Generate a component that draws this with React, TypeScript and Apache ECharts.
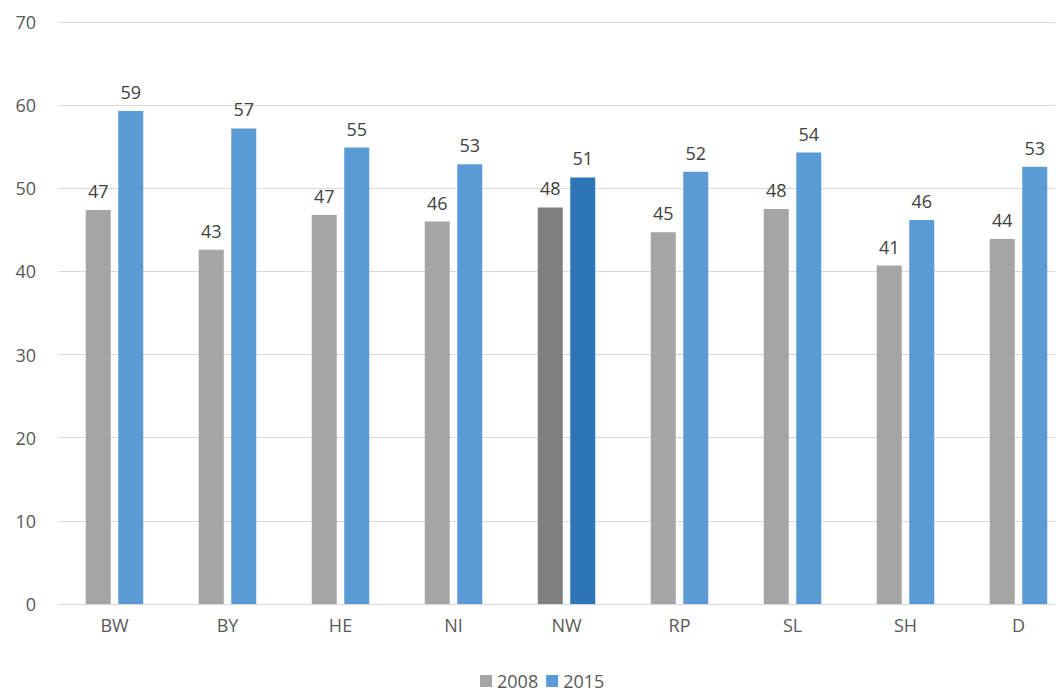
import { useEffect, useRef } from 'react'
import * as echarts from 'echarts'

const categories = ['BW', 'BY', 'HE', 'NI', 'NW', 'RP', 'SL', 'SH', 'D']
const values2008 = [47.4, 42.6, 46.8, 46.0, 47.7, 44.7, 47.5, 40.7, 43.9]
const values2015 = [59.3, 57.2, 54.9, 52.9, 51.3, 52.0, 54.3, 46.2, 52.6]
const highlight = 'NW'

export default function App() {
  const chartRef = useRef<HTMLDivElement | null>(null)

  useEffect(() => {
    if (!chartRef.current) return
    document.body.style.overflow = 'hidden'
    const chart = echarts.init(chartRef.current, undefined, { renderer: 'svg' })
    const label = {
      show: true,
      position: 'top',
      distance: 10,
      color: '#404040',
      fontSize: 18,
      formatter: (p: any) => String(Math.round(p.value)),
    }
    chart.setOption({
      animation: false,
      textStyle: { fontFamily: 'Open Sans' },
      grid: { left: 50, right: 8, top: 14, bottom: 93 },
      legend: {
        bottom: 2,
        left: 467,
        itemWidth: 12,
        itemHeight: 12,
        itemGap: 8,
        icon: 'rect',
        textStyle: { color: '#595959', fontSize: 18 },
        data: ['2008', '2015'],
      },
      xAxis: {
        type: 'category',
        data: categories,
        axisLine: { lineStyle: { color: '#d9d9d9' } },
        axisTick: { show: false },
        axisLabel: { color: '#595959', fontSize: 18, margin: 12 },
      },
      yAxis: {
        type: 'value',
        min: 0,
        max: 70,
        interval: 10,
        axisLabel: { color: '#595959', fontSize: 18, margin: 22 },
        splitLine: { lineStyle: { color: '#d9d9d9' } },
      },
      series: [
        {
          name: '2008',
          type: 'bar',
          barWidth: 25,
          barGap: '30%',
          color: '#a5a5a5',
          label,
          data: values2008.map((v, i) => ({
            value: v,
            itemStyle: { color: categories[i] === highlight ? '#7f7f7f' : '#a5a5a5' },
          })),
        },
        {
          name: '2015',
          type: 'bar',
          barWidth: 25,
          color: '#5b9bd5',
          label,
          data: values2015.map((v, i) => ({
            value: v,
            itemStyle: { color: categories[i] === highlight ? '#2e75b6' : '#5b9bd5' },
          })),
        },
      ],
    })
    return () => chart.dispose()
  }, [])

  return <div ref={chartRef} style={{ width: 1075, height: 689 }} />
}
